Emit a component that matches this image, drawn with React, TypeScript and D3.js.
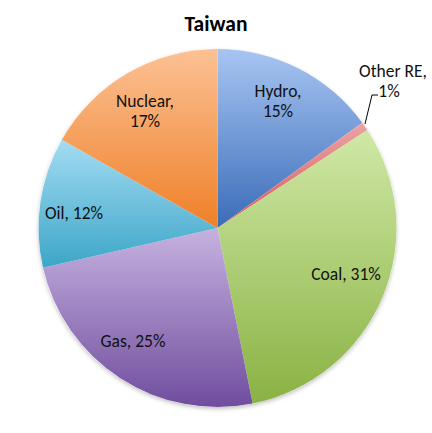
import React from "react";
import * as d3 from "d3";

const categories = ["Hydro", "Other RE", "Coal", "Gas", "Oil", "Nuclear"];
const values = [15.0, 0.8, 31.1, 24.6, 11.8, 16.8];
const topColors = ["#a8c5f2", "#eda3a3", "#d0e8a6", "#c6b2e0", "#a3dcf3", "#fcc194"];
const bottomColors = ["#3a6cb8", "#d45a5a", "#8ab243", "#704d9e", "#3ca6c7", "#ef8028"];

const W = 432, H = 433;
const cx = 217.5, cy = 228, R = 179;

export default function App() {
  const pie = d3.pie<number>().sort(null).value((d) => d)(values);
  const arc = d3.arc<d3.PieArcDatum<number>>().innerRadius(0).outerRadius(R);
  const font = "Carlito, Lato, 'Liberation Sans', sans-serif";
  const labelStyle = { fontFamily: font, fontSize: 17.5, fill: "#111" } as const;
  const pct = (i: number) => `${Math.round(values[i])}%`;
  return (
    <svg width={W} height={H} style={{ position: "absolute", left: 0, top: 0 }}>
      <defs>
        {categories.map((c, i) => (
          <linearGradient key={c} id={`g${i}`} x1="0" y1="0" x2="0" y2="1">
            <stop offset="0" stopColor={topColors[i]} />
            <stop offset="1" stopColor={bottomColors[i]} />
          </linearGradient>
        ))}
        <filter id="sh" x="-10%" y="-10%" width="120%" height="120%">
          <feDropShadow dx="0" dy="2" stdDeviation="2" floodColor="#000" floodOpacity="0.25" />
        </filter>
      </defs>
      <rect width={W} height={H} fill="#fff" />
      <text x={216} y={31} textAnchor="middle" style={{ fontFamily: font, fontSize: 21.5, fontWeight: "bold" }}>
        Taiwan
      </text>
      <g transform={`translate(${cx},${cy})`}>
        <circle r={R} fill="#fff" filter="url(#sh)" />
        {pie.map((p, i) => (
          <path key={categories[i]} d={arc(p) || ""} fill={`url(#g${i})`} />
        ))}
      </g>
      <g style={labelStyle}>
        <text x={278} y={97} textAnchor="middle">{categories[0]},</text>
        <text x={278} y={117} textAnchor="middle">{pct(0)}</text>
        <text x={393} y={77} textAnchor="middle">{categories[1]},</text>
        <text x={389} y={97} textAnchor="middle">{pct(1)}</text>
        <text x={346} y={280} textAnchor="middle">{categories[2]}, {pct(2)}</text>
        <text x={133} y={347} textAnchor="middle">{categories[3]}, {pct(3)}</text>
        <text x={74} y={219} textAnchor="middle">{categories[4]}, {pct(4)}</text>
        <text x={145} y={107} textAnchor="middle">{categories[5]},</text>
        <text x={145} y={127} textAnchor="middle">{pct(5)}</text>
      </g>
      <polyline points="365,124 372,95 378,95" fill="none" stroke="#000" strokeWidth={1} />
    </svg>
  );
}
